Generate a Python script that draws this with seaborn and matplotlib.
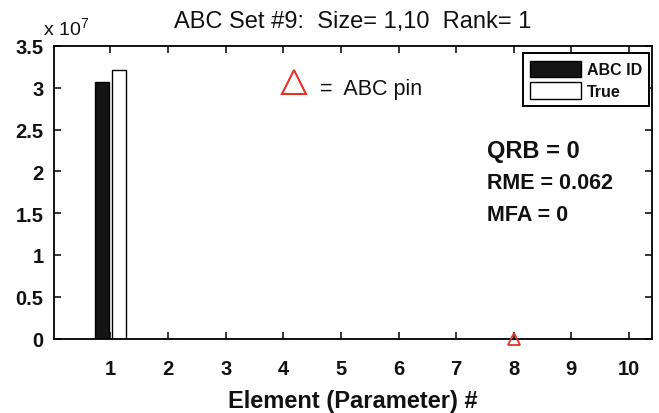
import numpy as np
import pandas as pd
import matplotlib
matplotlib.use('Agg')
import matplotlib.pyplot as plt
import seaborn as sns

# ---- data ----
elements = [1, 2, 3, 4, 5, 6, 7, 8, 9, 10]
abc_id = [3.07e7, 0, 0, 0, 0, 0, 0, 0, 0, 0]
true_vals = [3.21e7, 0, 0, 0, 0, 0, 0, 0, 0, 0]
pin_elements = [8]
pin_values = [0]
ytick_vals = [0, 0.5e7, 1e7, 1.5e7, 2e7, 2.5e7, 3e7, 3.5e7]
ytick_labels = ['0', '0.5', '1', '1.5', '2', '2.5', '3', '3.5']
stats = ['QRB = 0', 'RME = 0.062', 'MFA = 0']

sns.set_theme(style='white')
plt.rcParams['font.family'] = ['Liberation Sans', 'DejaVu Sans']
plt.rcParams['mathtext.default'] = 'regular'
for key in ['text.color', 'axes.labelcolor', 'xtick.color', 'ytick.color']:
    plt.rcParams[key] = '#111111'

df = pd.DataFrame({
    'Element': elements * 2,
    'Value': abc_id + true_vals,
    'Series': ['ABC ID'] * len(elements) + ['True'] * len(elements),
})

fig = plt.figure(figsize=(6.59, 4.14), dpi=100)
ax = fig.add_axes([54 / 659, (414 - 339.5) / 414, 598 / 659, 292.5 / 414])

sns.barplot(data=df, x='Element', y='Value', hue='Series',
            palette={'ABC ID': '#151515', 'True': 'white'},
            width=0.58, gap=0.15, saturation=1, errorbar=None,
            edgecolor='black', linewidth=1.0, ax=ax)

# pin marker at element 8 (categorical position = element - 1)
ax.plot(np.array(pin_elements) - 1, pin_values, ls='none', marker='^',
        ms=9, mfc='none', mec='#e03526', mew=1.3, clip_on=False, zorder=5)

ax.set_xlim(-0.98, 9.40)
ax.set_ylim(0, 3.5e7)
ax.set_yticks(ytick_vals)
ax.set_yticklabels(ytick_labels, fontweight='bold', fontsize=14.5)
ax.set_xticks(range(len(elements)))
ax.set_xticklabels([str(e) for e in elements], fontweight='bold', fontsize=14.5)
ax.tick_params(direction='in', length=5, width=1.1, top=True, right=True,
               bottom=True, left=True, color='black')
ax.tick_params(axis='x', pad=14.5)
ax.tick_params(axis='y', pad=7.5)
for sp in ax.spines.values():
    sp.set_color('black')
    sp.set_linewidth(1.3)

ax.set_xlabel('Element (Parameter) #', fontweight='bold', fontsize=17, labelpad=8.5)
ax.set_ylabel('')
ax.set_title('ABC Set #9:  Size= 1,10  Rank= 1', fontsize=17, pad=14)

handles, labels = ax.get_legend_handles_labels()
leg = ax.legend(handles, labels, loc='upper right', bbox_to_anchor=(0.995, 0.975),
                borderaxespad=0, prop=dict(weight='bold', size=11.5),
                handlelength=3.2, handleheight=1.22, labelspacing=0.3,
                handletextpad=0.33, borderpad=0.45, fancybox=False,
                edgecolor='black', framealpha=1)
leg.get_frame().set_linewidth(1.4)

# stats text
ax.text(0.724, 0.6205, stats[0], transform=ax.transAxes, fontsize=17,
        fontweight='bold', va='baseline')
ax.text(0.724, 0.5145, stats[1], transform=ax.transAxes, fontsize=15.5,
        fontweight='bold', va='baseline')
ax.text(0.724, 0.405, stats[2], transform=ax.transAxes, fontsize=15.5,
        fontweight='bold', va='baseline')

# pin key
ax.plot([0.402], [0.878], transform=ax.transAxes, ls='none', marker='^',
        ms=17, mfc='none', mec='#e03526', mew=1.5, clip_on=False)
ax.text(0.445, 0.836, '=  ABC pin', transform=ax.transAxes, fontsize=15.5,
        va='baseline')

fig.text(43 / 659, 1 - 35 / 414, r'x 10$^{7}$', fontsize=14, va='baseline')

fig.savefig('out.png', dpi=100)
